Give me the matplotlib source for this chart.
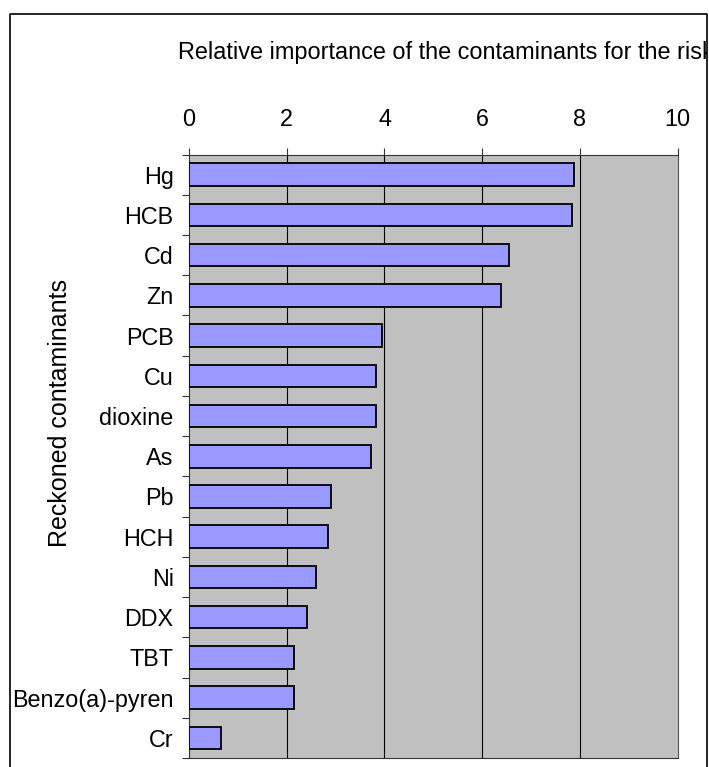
import matplotlib
matplotlib.use("Agg")
import matplotlib.pyplot as plt
from matplotlib.lines import Line2D
from matplotlib.transforms import Bbox, TransformedBbox
import numpy as np

plt.rcParams['font.family'] = ['Liberation Sans', 'DejaVu Sans']

# values
contaminants = ['Hg', 'HCB', 'Cd', 'Zn', 'PCB', 'Cu', 'dioxine', 'As', 'Pb',
                'HCH', 'Ni', 'DDX', 'TBT', 'Benzo(a)-pyren', 'Cr']
importance = [7.87, 7.84, 6.55, 6.38, 3.96, 3.83, 3.83, 3.72, 2.91,
              2.84, 2.60, 2.41, 2.14, 2.14, 0.65]
x_ticks = [0, 2, 4, 6, 8, 10]

W, H = 709, 767
fig = plt.figure(figsize=(W / 100, H / 100), dpi=100)

# axes placed in pixel terms of the reference
left, right, top, bottom = 189, 677.6, 154.5, 758
ax = fig.add_axes([left / W, 1 - bottom / H, (right - left) / W, (bottom - top) / H])
ax.set_facecolor('#C0C0C0')

y = np.arange(len(contaminants))
ax.barh(y, importance, height=0.56, color='#9999FF', edgecolor='black',
        linewidth=1.3, zorder=3)

ax.set_xlim(0, 10)
ax.set_ylim(len(contaminants) - 0.5, -0.5)

# x axis on top
ax.xaxis.tick_top()
ax.set_xticks(x_ticks)
ax.set_xticklabels([str(v) for v in x_ticks])
ax.tick_params(axis='x', which='major', direction='out', length=5, width=0.8,
               pad=12, labelsize=16.8, color='#333333')
for v in x_ticks[1:-1]:
    ax.axvline(v, color='black', linewidth=0.8, zorder=1)

# category labels in centres, tick marks at boundaries
ax.set_yticks(y)
ax.set_yticklabels(contaminants)
ax.set_yticks(np.arange(len(contaminants) + 1) - 0.5, minor=True)
ax.tick_params(axis='y', which='major', length=0, pad=11, labelsize=16.8)
ax.tick_params(axis='y', which='minor', direction='out', length=5, width=0.8,
               color='#333333')

for side in ['top', 'left', 'bottom']:
    ax.spines[side].set_color('#333333')
    ax.spines[side].set_linewidth(0.8)
ax.spines['right'].set_color('#555555')
ax.spines['right'].set_linewidth(0.8)

fig.text(60 / W, 1 - 413 / H, 'Reckoned contaminants', rotation=90,
         ha='center', va='center', fontsize=18)

# title runs just past the chart frame in the original, so clip it there
title = fig.text(178 / W, 1 - 53 / H,
                 'Relative importance of the contaminants for the risk',
                 ha='left', va='center', fontsize=16.9)
title.set_clip_box(TransformedBbox(Bbox([[0, 0], [707 / W, 1]]), fig.transFigure))
title.set_clip_on(True)

# outer chart frame (bottom edge is off the picture)
fx = [9.5 / W, 9.5 / W, 707 / W, 707 / W]
fy = [0, 1 - 13.5 / H, 1 - 13.5 / H, 0]
fig.add_artist(Line2D(fx, fy, transform=fig.transFigure, color='black', linewidth=1.2))

fig.savefig('out.png', dpi=100)
